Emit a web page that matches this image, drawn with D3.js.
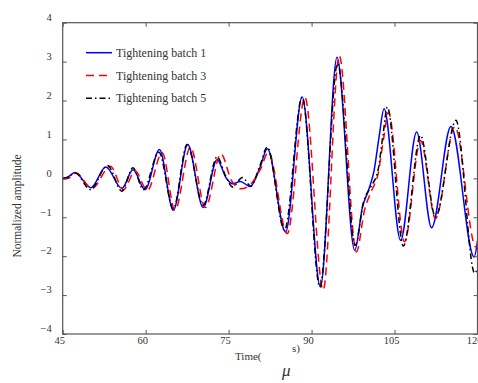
<!DOCTYPE html>
<html>
<head>
<meta charset="utf-8">
<script src="https://cdn.jsdelivr.net/npm/d3@7"></script>
<style>
  html, body { margin: 0; padding: 0; background: #fff; overflow: hidden; }
  svg { display: block; }
  text { font-family: "Liberation Serif", "DejaVu Serif", serif; fill: #333; }
</style>
</head>
<body>
<svg id="chart" width="478" height="383"></svg>
<script>
// ---- Data ----
const seriesNames = ["Tightening batch 1", "Tightening batch 3", "Tightening batch 5"];
const xTickValues = [45, 60, 75, 90, 105, 120];
const yTickValues = [-4, -3, -2, -1, 0, 1, 2, 3, 4];

const timeBatch1 = [45.0, 45.8, 47.2, 50.1, 52.8, 55.7, 57.7, 59.9, 62.5, 65.0, 67.6, 70.4, 72.9, 74.6, 75.7, 77.1, 78.9, 80.7, 82.0, 85.3, 88.3, 91.6, 94.6, 97.8, 99.2, 100.4, 101.3, 102.2, 103.1, 106.1, 109.0, 111.7, 115.2, 119.4, 120.0];
const ampBatch1  = [0.0, 0.02, 0.15, -0.24, 0.29, -0.26, 0.22, -0.29, 0.74, -0.82, 0.87, -0.75, 0.48, 0.0, -0.14, -0.08, -0.21, 0.29, 0.76, -1.38, 2.09, -2.79, 3.11, -1.85, -0.74, -0.26, 0.2, 1.06, 1.79, -1.59, 1.19, -1.27, 1.33, -2.02, -1.6];

const timeBatch3 = [45.0, 46.0, 47.4, 50.3, 53.6, 56.0, 58.1, 60.3, 63.0, 65.3, 68.1, 70.8, 73.6, 75.5, 77.2, 79.0, 80.8, 82.2, 85.6, 88.8, 92.1, 95.0, 98.1, 99.6, 100.9, 102.0, 103.0, 103.9, 106.8, 109.7, 112.4, 115.9, 119.7, 120.0];
const ampBatch3  = [-0.02, 0.0, 0.14, -0.26, 0.31, -0.29, 0.19, -0.31, 0.66, -0.82, 0.80, -0.75, 0.63, -0.05, -0.27, -0.15, 0.25, 0.67, -1.42, 2.08, -2.87, 3.15, -1.89, -0.8, -0.3, 0.1, 1.0, 1.70, -1.63, 0.97, -1.03, 1.33, -1.76, -1.7];

const timeBatch5 = [45.0, 45.8, 47.3, 50.0, 53.1, 55.7, 57.7, 59.6, 62.4, 65.0, 67.5, 70.4, 72.9, 74.5, 75.7, 77.5, 79.0, 80.6, 82.0, 85.1, 88.3, 91.5, 94.7, 97.9, 99.4, 100.7, 102.0, 102.9, 103.7, 106.6, 109.7, 112.4, 116.1, 119.5, 120.0];
const ampBatch5  = [0.0, 0.02, 0.14, -0.29, 0.33, -0.33, 0.27, -0.29, 0.67, -0.78, 0.87, -0.69, 0.55, 0.05, -0.22, 0.02, -0.2, 0.3, 0.80, -1.33, 2.09, -2.79, 2.95, -1.72, -0.6, -0.22, 0.2, 1.1, 1.83, -1.74, 1.10, -0.99, 1.49, -2.44, -2.3];

// ---- Layout ----
const svg = d3.select("#chart");
const plotL = 62.7, plotR = 477.5, plotT = 22.7, plotB = 334;
const serif = "'Liberation Serif', 'DejaVu Serif', serif";

const x = d3.scaleLinear().domain([45, 120]).range([plotL, plotR]);
const y = d3.scaleLinear().domain([-4, 4]).range([plotB, plotT]);

const series = [
  { name: seriesNames[0], t: timeBatch1, v: ampBatch1, color: "#0000ff", dash: null },
  { name: seriesNames[1], t: timeBatch3, v: ampBatch3, color: "#ff0000", dash: "8,5" },
  { name: seriesNames[2], t: timeBatch5, v: ampBatch5, color: "#000000", dash: "6,3,1.5,3" }
];

svg.append("defs").append("clipPath").attr("id", "clip")
  .append("rect").attr("x", plotL).attr("y", plotT).attr("width", plotR - plotL).attr("height", plotB - plotT);

const line = d3.line()
  .x(d => x(d[0]))
  .y(d => y(d[1]))
  .curve(d3.curveMonotoneX);

const g = svg.append("g").attr("clip-path", "url(#clip)");
series.forEach(s => {
  const pts = s.t.map((t, i) => [t, s.v[i]]);
  g.append("path")
    .datum(pts)
    .attr("d", line)
    .attr("fill", "none")
    .attr("stroke", s.color)
    .attr("stroke-width", 1.5)
    .attr("stroke-dasharray", s.dash);
});

// ---- Axes (inward ticks on all four sides) ----
const axisColor = "#555";
const bottomAxis = svg.append("g").attr("transform", `translate(0,${plotB})`)
  .call(d3.axisBottom(x).tickValues(xTickValues).tickSizeInner(-4).tickSizeOuter(0).tickPadding(3));
const leftAxis = svg.append("g").attr("transform", `translate(${plotL},0)`)
  .call(d3.axisLeft(y).tickValues(yTickValues).tickSizeInner(-4).tickSizeOuter(0).tickPadding(11));
const topAxis = svg.append("g").attr("transform", `translate(0,${plotT})`)
  .call(d3.axisTop(x).tickValues(xTickValues).tickSizeInner(-4).tickSizeOuter(0).tickFormat(""));
const rightAxis = svg.append("g").attr("transform", `translate(${plotR},0)`)
  .call(d3.axisRight(y).tickValues(yTickValues).tickSizeInner(-4).tickSizeOuter(0).tickFormat(""));

[bottomAxis, leftAxis, topAxis, rightAxis].forEach(a => {
  a.attr("font-family", serif);
  a.select(".domain").remove();
  a.selectAll(".tick line").attr("stroke", axisColor).attr("stroke-width", 1);
  a.selectAll("text").style("font-family", serif).attr("font-size", 10.5).attr("fill", "#333");
});
bottomAxis.selectAll("text").attr("dx", "-3.5");
leftAxis.selectAll("text").attr("dy", "-2.2").attr("text-anchor", "end");

svg.append("rect")
  .attr("x", plotL).attr("y", plotT).attr("width", plotR - plotL).attr("height", plotB - plotT)
  .attr("fill", "none").attr("stroke", axisColor).attr("stroke-width", 1.2);

// ---- Axis titles ----
svg.append("text")
  .attr("transform", "translate(21,206) rotate(-90)")
  .attr("text-anchor", "middle")
  .attr("font-size", 11.5)
  .text("Normalized amplitude");

svg.append("text").attr("x", 235).attr("y", 360).attr("font-size", 11).text("Time(");
svg.append("text").attr("x", 282).attr("y", 376).attr("font-size", 17).attr("font-style", "italic").text("μ");
svg.append("text").attr("x", 292).attr("y", 352).attr("font-size", 11).text("s)");

// ---- Legend ----
const legend = svg.append("g");
series.forEach((s, i) => {
  const ly = 52.7 + i * 22.8;
  legend.append("line")
    .attr("x1", 86).attr("x2", 112).attr("y1", ly).attr("y2", ly)
    .attr("stroke", s.color).attr("stroke-width", 1.5)
    .attr("stroke-dasharray", s.dash);
  legend.append("text")
    .attr("x", 116).attr("y", ly + 4)
    .attr("font-size", 12)
    .text(s.name);
});
</script>
</body>
</html>
